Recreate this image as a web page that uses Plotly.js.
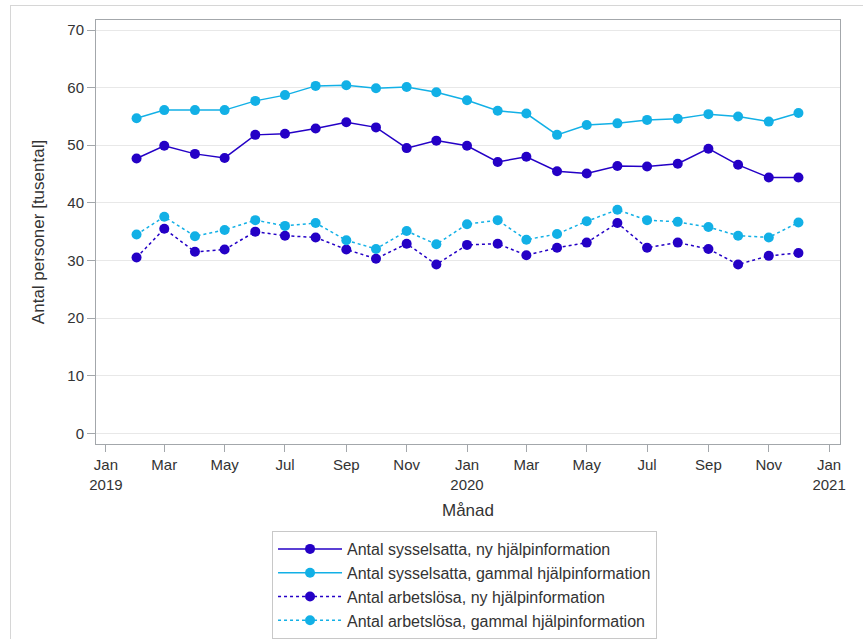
<!DOCTYPE html>
<html>
<head>
<meta charset="utf-8">
<script src="https://cdn.plot.ly/plotly-3.0.1.min.js"></script>
<style>
  html, body { margin: 0; padding: 0; background: #fff; }
  #wrap { position: relative; width: 863px; height: 639px; overflow: hidden; }
  #chart { width: 863px; height: 639px; }
  #frame { position: absolute; left: 10px; top: 5px; width: 853px; height: 634px;
           border-left: 1px solid #d6d6d6; border-top: 1px solid #d6d6d6; pointer-events: none; }
</style>
</head>
<body>
<div id="wrap"><div id="chart"></div><div id="frame"></div></div>
<script>
const months = ['2019-02-01','2019-03-01','2019-04-01','2019-05-01','2019-06-01','2019-07-01',
  '2019-08-01','2019-09-01','2019-10-01','2019-11-01','2019-12-01','2020-01-01',
  '2020-02-01','2020-03-01','2020-04-01','2020-05-01','2020-06-01','2020-07-01',
  '2020-08-01','2020-09-01','2020-10-01','2020-11-01','2020-12-01'];

const syssNy = [47.7,49.9,48.5,47.8,51.8,52.0,52.9,54.0,53.1,49.5,50.8,49.9,
  47.1,48.0,45.5,45.1,46.4,46.3,46.8,49.4,46.6,44.4,44.4];
const syssGammal = [54.7,56.1,56.1,56.1,57.7,58.7,60.3,60.4,59.9,60.1,59.2,57.8,
  56.0,55.5,51.8,53.5,53.8,54.4,54.6,55.4,55.0,54.1,55.6];
const arbNy = [30.5,35.5,31.5,31.9,35.0,34.3,34.0,31.9,30.3,32.9,29.3,32.7,
  32.9,30.9,32.2,33.1,36.5,32.2,33.1,32.0,29.3,30.8,31.3];
const arbGammal = [34.5,37.6,34.2,35.3,37.0,36.0,36.5,33.5,32.0,35.1,32.8,36.3,
  37.0,33.6,34.6,36.8,38.8,37.0,36.7,35.8,34.3,34.0,36.6];

const seriesNames = ['Antal sysselsatta, ny hjälpinformation',
  'Antal sysselsatta, gammal hjälpinformation',
  'Antal arbetslösa, ny hjälpinformation',
  'Antal arbetslösa, gammal hjälpinformation'];

const tickDates = ['2019-01-01','2019-03-01','2019-05-01','2019-07-01','2019-09-01','2019-11-01',
  '2020-01-01','2020-03-01','2020-05-01','2020-07-01','2020-09-01','2020-11-01','2021-01-01'];
const tickLabels = ['Jan<br>2019','Mar','May','Jul','Sep','Nov','Jan<br>2020','Mar','May','Jul','Sep','Nov','Jan<br>2021'];
const yTicks = [0,10,20,30,40,50,60,70];

const dark = '#2400c6';
const light = '#12b0e6';
const font = 'Arial, "Liberation Sans", sans-serif';

function tr(y, name, color, dash) {
  return {
    x: months, y: y, name: name, type: 'scatter', mode: 'lines+markers',
    line: {color: color, width: 1.5, dash: dash},
    marker: {color: color, size: 10}
  };
}

const data = [
  tr(syssNy, seriesNames[0], dark, 'solid'),
  tr(syssGammal, seriesNames[1], light, 'solid'),
  tr(arbNy, seriesNames[2], dark, 'dot'),
  tr(arbGammal, seriesNames[3], light, 'dot')
];

const axisCommon = {
  showline: true, linecolor: '#a3a7ab', linewidth: 1, mirror: true,
  ticks: 'outside', tickcolor: '#a3a7ab', tickwidth: 1,
  tickfont: {family: font, size: 15, color: '#333'},
  zeroline: false
};

const layout = {
  width: 863, height: 639,
  margin: {l: 96, r: 23, t: 20, b: 195, autoexpand: false},
  paper_bgcolor: '#fff', plot_bgcolor: '#fff',
  font: {family: font, color: '#333'},
  showlegend: true,
  xaxis: Object.assign({}, axisCommon, {
    type: 'date',
    range: ['2018-12-22', '2021-01-12'],
    tickmode: 'array', tickvals: tickDates, ticktext: tickLabels,
    ticklen: 7, showgrid: false,
    title: {text: 'Månad', font: {family: font, size: 17, color: '#333'}, standoff: 12}
  }),
  yaxis: Object.assign({}, axisCommon, {
    range: [-1.86, 71.74],
    tickmode: 'array', tickvals: yTicks,
    ticklen: 8, showgrid: true, gridcolor: '#e8e8e8', gridwidth: 1,
    title: {text: 'Antal personer [tusental]', font: {family: font, size: 17, color: '#333'}, standoff: 18}
  }),
  legend: {
    x: 0.2366, y: -0.2052, xanchor: 'left', yanchor: 'top',
    bordercolor: '#c8c8c8', borderwidth: 1, bgcolor: '#fff',
    font: {family: font, size: 16, color: '#333'},
    itemwidth: 64, tracegroupgap: 0
  }
};

Plotly.newPlot('chart', data, layout, {displayModeBar: false, staticPlot: true});
</script>
</body>
</html>
